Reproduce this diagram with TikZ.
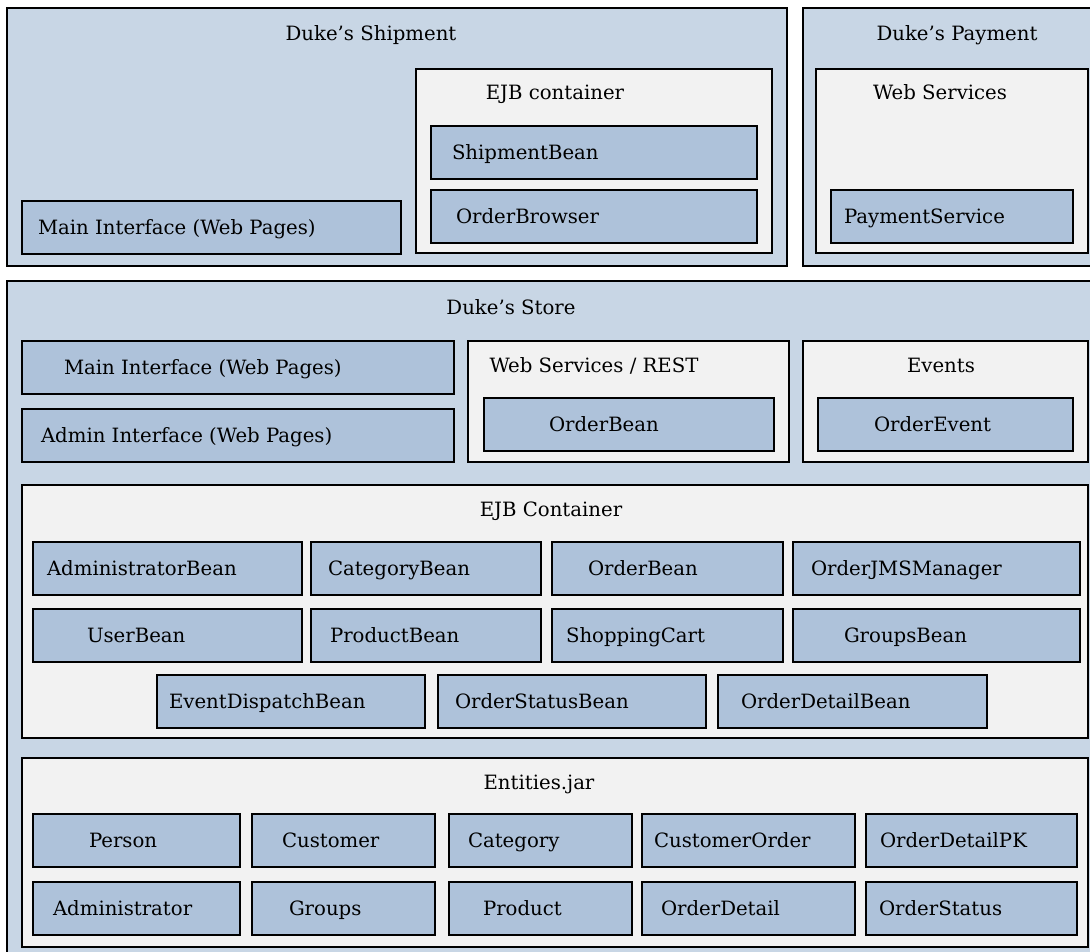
\documentclass[tikz,border=0pt]{standalone}
\usepackage{fontspec}
\setmainfont{DejaVu Serif}
\usepackage{tikz}
\usetikzlibrary{positioning}
\definecolor{dukeblue}{HTML}{C8D6E5}
\definecolor{beanblue}{HTML}{AEC2DA}
\definecolor{boxgrey}{HTML}{F2F2F2}

\begin{document}
\begin{tikzpicture}[x=1pt, y=-1pt,
                font=\fontsize{19.7}{23}\selectfont,
                app/.style={draw=black, line width=1.8pt, fill=dukeblue, rectangle, inner sep=0pt, outer sep=0pt, anchor=north west},
                container/.style={app, fill=boxgrey},
                bean/.style={app, fill=beanblue, minimum height=53pt},
                beantext/.style={inner sep=0pt, outer sep=0pt, text height=14.4pt, text depth=0pt},
                titletext/.style={beantext}
            ]
            \useasboundingbox (0,0) rectangle (1090,951);

            % Duke's Shipment
            \node[app, minimum width=780pt, minimum height=258pt] (shipment) at (7,8) {};
            \node[titletext] (shiptitle) at (371,33) {Duke's Shipment};
            \node[bean, minimum width=379pt] (shipmain) at (22,201) {};
            \node[beantext, right=16pt of shipmain.west] (shipmaintext) {Main Interface (Web Pages)};
            \node[container, minimum width=356pt, minimum height=184pt] (shipejb) at (416,69) {};
            \node[titletext] (shipejbtitle) at (555,92) {EJB container};
            \node[bean, minimum width=326pt] (shipbean) at (431,126) {};
            \node[bean, minimum width=326pt, below=11pt of shipbean] (orderbrowser) {};
            \node[beantext, right=21pt of shipbean.west] (shipbeantext) {ShipmentBean};
            \node[beantext, right=25pt of orderbrowser.west] (orderbrowsertext) {OrderBrowser};

            % Duke's Payment
            \node[app, minimum width=300pt, minimum height=258pt] (payment) at (803,8) {};
            \node[titletext] (paytitle) at (957,33) {Duke's Payment};
            \node[container, minimum width=272pt, minimum height=184pt] (payws) at (816,69) {};
            \node[titletext] (paywstitle) at (940,92) {Web Services};
            \node[bean, minimum width=242pt] (payservice) at (831,190) {};
            \node[beantext, right=13pt of payservice.west] (payservicetext) {PaymentService};

            % Duke's Store
            \node[app, minimum width=1096pt, minimum height=680pt] (store) at (7,281) {};
            \node[titletext] (storetitle) at (511,307) {Duke's Store};
            \node[bean, minimum width=432pt] (storemain) at (22,341) {};
            \node[bean, minimum width=432pt, below=15pt of storemain] (adminui) {};
            \node[beantext, right=42pt of storemain.west] (storemaintext) {Main Interface (Web Pages)};
            \node[beantext, right=19pt of adminui.west] (adminuitext) {Admin Interface (Web Pages)};
            \node[container, minimum width=321pt, minimum height=121pt] (rest) at (468,341) {};
            \node[titletext] (resttitle) at (594,365) {Web Services / REST};
            \node[bean, minimum width=290pt] (restorderbean) at (484,398) {};
            \node[beantext, right=65pt of restorderbean.west] (restorderbeantext) {OrderBean};
            \node[container, minimum width=285pt, minimum height=121pt] (events) at (803,341) {};
            \node[titletext] (eventstitle) at (941,365) {Events};
            \node[bean, minimum width=255pt] (orderevent) at (818,398) {};
            \node[beantext, right=56pt of orderevent.west] (ordereventtext) {OrderEvent};

            % EJB Container
            \node[container, minimum width=1066pt, minimum height=253pt] (ejb) at (22,485) {};
            \node[titletext] (ejbtitle) at (551,509) {EJB Container};
            \node[bean, minimum width=269pt] (adminbean) at (33,542) {};
            \node[bean, minimum width=230pt, right=9pt of adminbean] (categorybean) {};
            \node[bean, minimum width=231pt, right=11pt of categorybean] (orderbean) {};
            \node[bean, minimum width=287pt, right=10pt of orderbean] (jmsmanager) {};
            \node[bean, minimum width=269pt, below=14pt of adminbean] (userbean) {};
            \node[bean, minimum width=230pt, below=14pt of categorybean] (productbean) {};
            \node[bean, minimum width=231pt, below=14pt of orderbean] (shoppingcart) {};
            \node[bean, minimum width=287pt, below=14pt of jmsmanager] (groupsbean) {};
            \node[bean, minimum width=268pt] (dispatchbean) at (157,675) {};
            \node[bean, minimum width=268pt, right=13pt of dispatchbean] (statusbean) {};
            \node[bean, minimum width=269pt, right=12pt of statusbean] (detailbean) {};
            \node[beantext, right=14pt of adminbean.west] (adminbeantext) {AdministratorBean};
            \node[beantext, right=17pt of categorybean.west] (categorybeantext) {CategoryBean};
            \node[beantext, right=36pt of orderbean.west] (orderbeantext) {OrderBean};
            \node[beantext, right=18pt of jmsmanager.west] (jmsmanagertext) {OrderJMSManager};
            \node[beantext, right=54pt of userbean.west] (userbeantext) {UserBean};
            \node[beantext, right=19pt of productbean.west] (productbeantext) {ProductBean};
            \node[beantext, right=14pt of shoppingcart.west] (shoppingcarttext) {ShoppingCart};
            \node[beantext, right=51pt of groupsbean.west] (groupsbeantext) {GroupsBean};
            \node[beantext, right=12pt of dispatchbean.west] (dispatchbeantext) {EventDispatchBean};
            \node[beantext, right=17pt of statusbean.west] (statusbeantext) {OrderStatusBean};
            \node[beantext, right=23pt of detailbean.west] (detailbeantext) {OrderDetailBean};

            % Entities.jar
            \node[container, minimum width=1066pt, minimum height=189pt] (entities) at (22,758) {};
            \node[titletext] (entitiestitle) at (539,782) {Entities.jar};
            \node[bean, minimum width=207pt] (person) at (33,814) {};
            \node[bean, minimum width=183pt, right=12pt of person] (customer) {};
            \node[bean, minimum width=183pt, right=14pt of customer] (category) {};
            \node[bean, minimum width=213pt, right=10pt of category] (customerorder) {};
            \node[bean, minimum width=211pt, right=11pt of customerorder] (detailpk) {};
            \node[bean, minimum width=207pt, below=15pt of person] (administrator) {};
            \node[bean, minimum width=183pt, below=15pt of customer] (groups) {};
            \node[bean, minimum width=183pt, below=15pt of category] (product) {};
            \node[bean, minimum width=213pt, below=15pt of customerorder] (orderdetail) {};
            \node[bean, minimum width=211pt, below=15pt of detailpk] (orderstatus) {};
            \node[beantext, right=56pt of person.west] (persontext) {Person};
            \node[beantext, right=30pt of customer.west] (customertext) {Customer};
            \node[beantext, right=19pt of category.west] (categorytext) {Category};
            \node[beantext, right=12pt of customerorder.west] (customerordertext) {CustomerOrder};
            \node[beantext, right=14pt of detailpk.west] (detailpktext) {OrderDetailPK};
            \node[beantext, right=20pt of administrator.west] (administratortext) {Administrator};
            \node[beantext, right=37pt of groups.west] (groupstext) {Groups};
            \node[beantext, right=34pt of product.west] (producttext) {Product};
            \node[beantext, right=19pt of orderdetail.west] (orderdetailtext) {OrderDetail};
            \node[beantext, right=13pt of orderstatus.west] (orderstatustext) {OrderStatus};

        \end{tikzpicture}
\end{document}
